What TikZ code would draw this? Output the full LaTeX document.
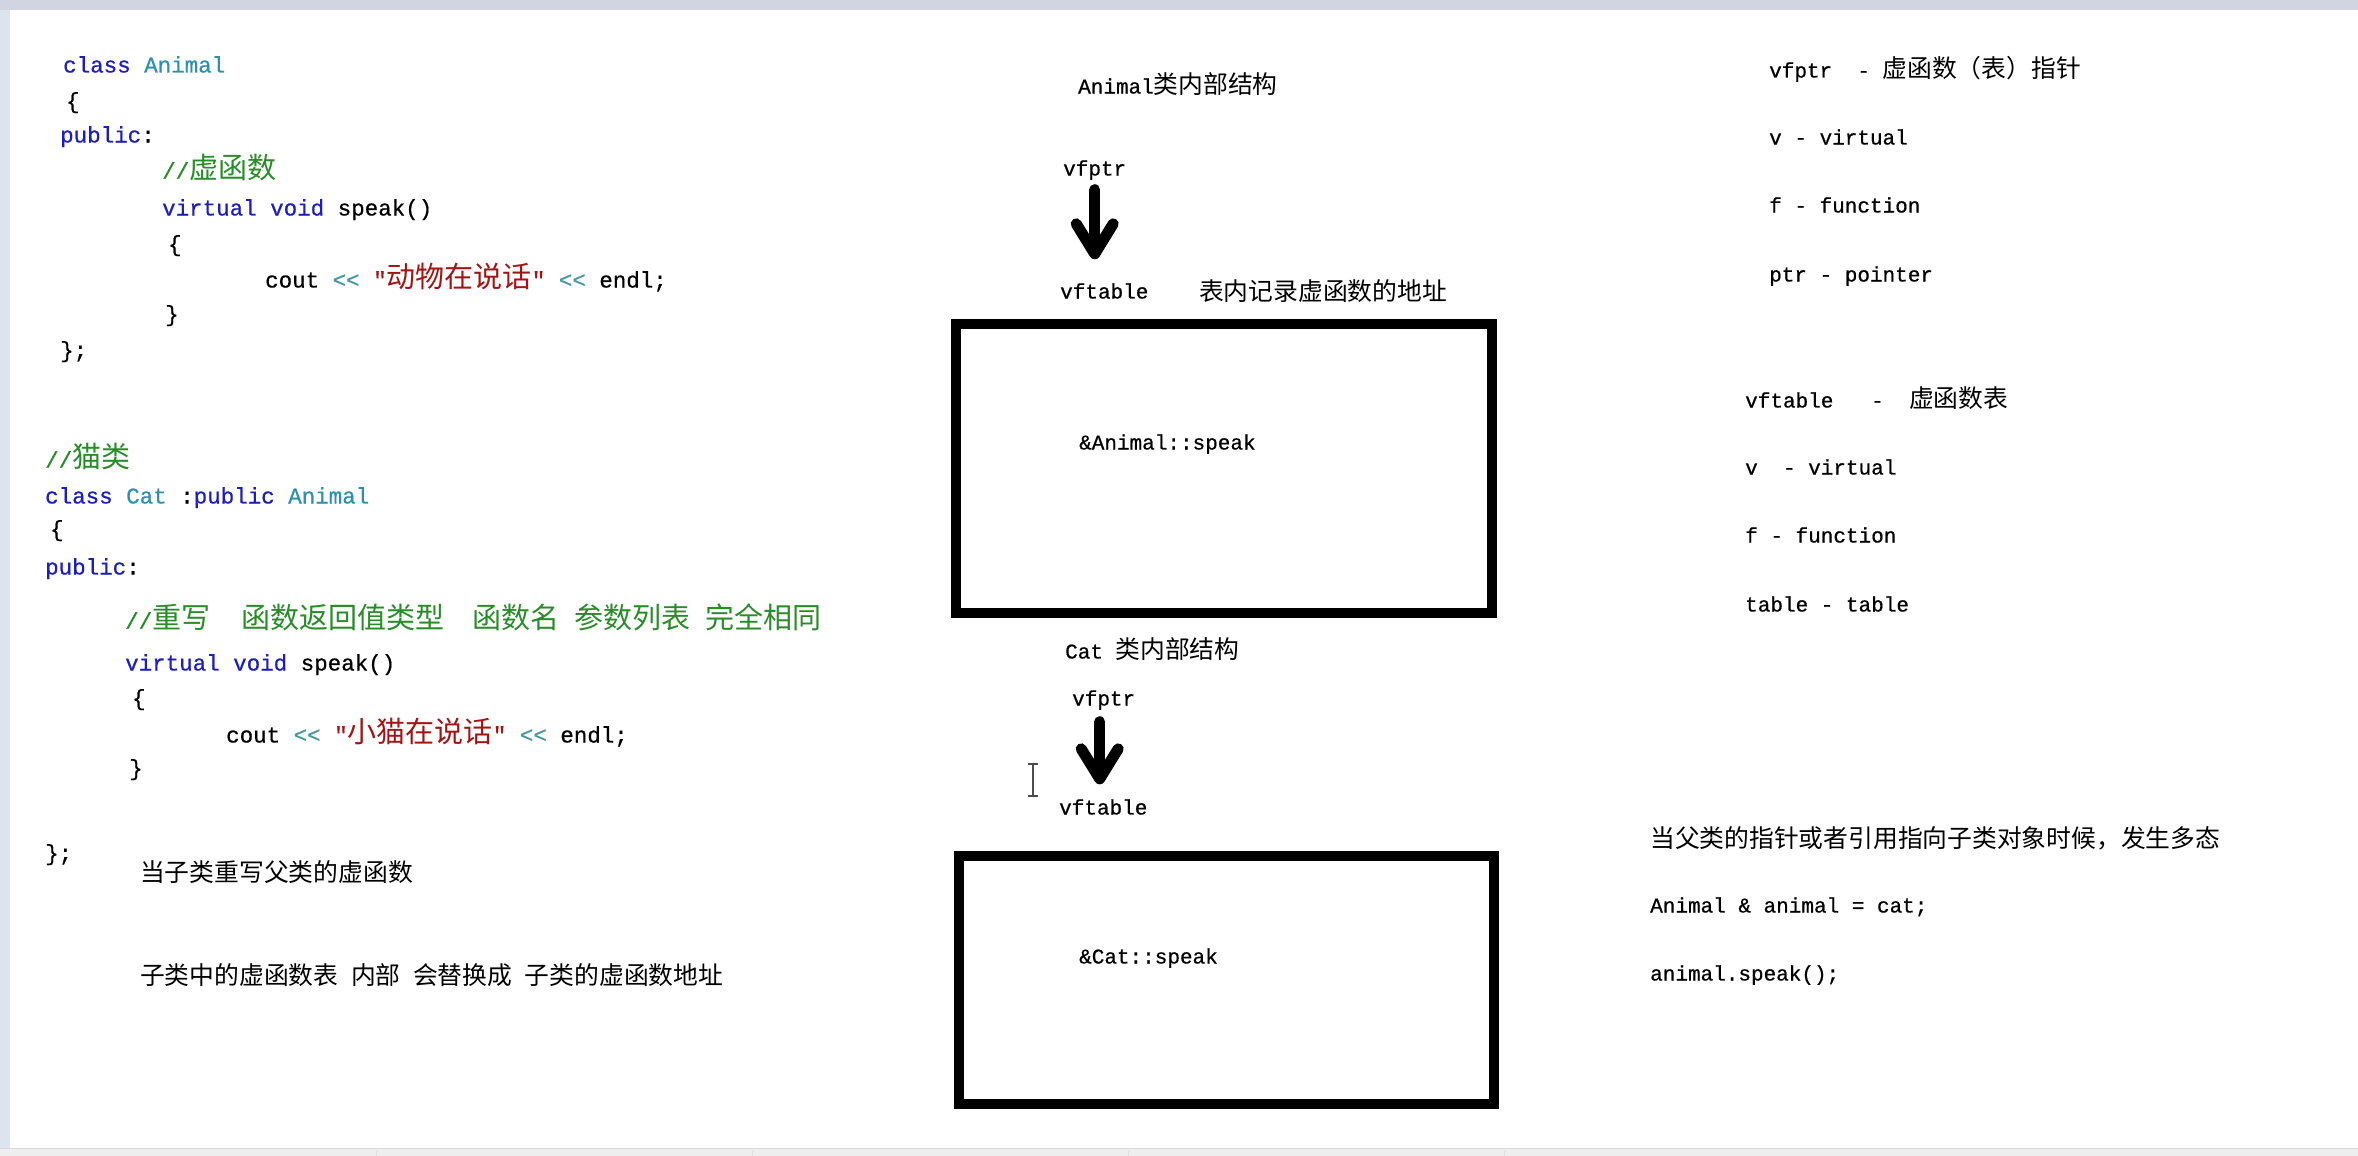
\documentclass[tikz,border=0pt]{standalone}
\usepackage{fontspec}
\setmonofont{Liberation Mono}[FakeBold=0.6]
\newfontfamily\cjkcode[Scale=1.29]{Noto Sans CJK SC}
\newfontfamily\cjknote[Scale=1.18]{Noto Sans CJK SC}
\usepackage{xcolor}
\usetikzlibrary{calc}
\usetikzlibrary{positioning}
\usetikzlibrary{arrows.meta}
\definecolor{kwblue}{RGB}{30,30,190}
\definecolor{typeteal}{RGB}{43,145,175}
\definecolor{cmtgreen}{RGB}{40,140,40}
\definecolor{strred}{RGB}{163,21,21}
\definecolor{opteal}{RGB}{70,150,165}
\definecolor{topband}{RGB}{208,213,225}
\definecolor{sideband}{RGB}{221,228,240}
\definecolor{barcol}{RGB}{238,238,238}
\newcommand{\zhfont}{\cjknote}
\newcommand{\zh}[1]{{\zhfont #1}}
\newcommand{\kw}[1]{\textcolor{kwblue}{#1}}
\newcommand{\ty}[1]{\textcolor{typeteal}{#1}}
\newcommand{\cmt}[1]{\textcolor{cmtgreen}{#1}}
\newcommand{\strlit}[1]{\textcolor{strred}{#1}}
\newcommand{\opr}[1]{\textcolor{opteal}{#1}}

\begin{document}
\begin{tikzpicture}[x=1pt,y=-1pt]
		\tikzset{>=latex}
		\tikzset{
			code/.style={anchor=west,inner sep=0pt,yshift=-5pt,font=\fontsize{22.5}{27}\selectfont\ttfamily\let\zhfont\cjkcode,text height=0.5em,text depth=0pt},
			note/.style={anchor=west,inner sep=0pt,yshift=-5pt,font=\fontsize{21}{25}\selectfont\ttfamily,text height=0.5em,text depth=0pt},
			zhnote/.style={note,text height=0.9em},
			tablebox/.style={draw,line width=10.5pt,inner sep=0pt},
			fatarrow/.style={line width=11pt,line cap=round,-{Straight Barb[length=30pt,width=37pt,line join=round,line cap=round]}}
		}
		\useasboundingbox (0,0) rectangle (2358,1156);
		
		% screen frame
		\fill[white] (0,0) rectangle (2358,1156);
		\fill[topband] (0,0) rectangle (2358,10);
		\fill[sideband] (0,10) rectangle (10,1148);
		\fill[barcol] (0,1148) rectangle (2358,1156);
		\draw[black!15,line width=1pt] (0,1148) -- (2358,1148);
		\foreach \sx in {376,752,1128,1504}
			\draw[black!12] (\sx,1151) -- (\sx,1156);
		
		% class Animal
		\node[code] (a1) at (63,65) {\kw{class} \ty{Animal}};
		\node[code] (a2) at (66,101) {\{};
		\node[code] (a3) at (60,135) {\kw{public}:};
		\node[code] (a4) at (162,171) {\cmt{//\zh{虚函数}}};
		\node[code] (a5) at (162,208) {\kw{virtual} \kw{void} speak()};
		\node[code] (a6) at (168,244) {\{};
		\node[code] (a7) at (265,280) {cout \opr{<<} \strlit{"\zh{动物在说话}"} \opr{<<} endl;};
		\node[code] (a8) at (165,314) {\}};
		\node[code] (a9) at (60,350) {\};};
		
		% class Cat
		\node[code] (c1) at (45,460) {\cmt{//\zh{猫类}}};
		\node[code] (c2) at (45,496) {\kw{class} \ty{Cat} :\kw{public} \ty{Animal}};
		\node[code] (c3) at (50,529) {\{};
		\node[code] (c4) at (45,567) {\kw{public}:};
		\node[code] (c5) at (125,621) {\cmt{//\zh{重写}\hspace*{31pt}\zh{函数返回值类型}\hspace*{28pt}\zh{函数名}\hspace*{15pt}\zh{参数列表}\hspace*{15pt}\zh{完全相同}}};
		\node[code] (c6) at (125,663) {\kw{virtual} \kw{void} speak()};
		\node[code] (c7) at (132,698) {\{};
		\node[code] (c8) at (226,735) {cout \opr{<<} \strlit{"\zh{小猫在说话}"} \opr{<<} endl;};
		\node[code] (c9) at (129,768) {\}};
		\node[code] (c10) at (45,853) {\};};
		\node[zhnote] (n1) at (140,872) {\zh{当子类重写父类的虚函数}};
		\node[zhnote] (n2) at (140,975) {\zh{子类中的虚函数表} \zh{内部} \zh{会替换成} \zh{子类的虚函数地址}};
		
		% Animal layout
		\node[note] (animalHead) at (1078,86) {Animal\zh{类内部结构}};
		\node[note] (vfptrA) at (1063,168) {vfptr};
		\node[note] (vftabA) at (1060,291) {vftable};
		\node[zhnote] (tabNote) at (1199,291) {\zh{表内记录虚函数的地址}};
		\node[tablebox,minimum width=536pt,minimum height=289pt] (tabA) at (1224,468.5) {};
		\node[note] (speakA) at (1079,442) {\&Animal::speak};
		\draw[fatarrow,shorten <=14pt,shorten >=34pt] (vfptrA.south) -- (vfptrA.south |- vftabA.north);
		
		% Cat layout
		\node[note] (catHead) at (1065,651) {Cat \zh{类内部结构}};
		\node[note] (vfptrB) at (1072,698) {vfptr};
		\node[note] (vftabB) at (1059,807) {vftable};
		\node[tablebox,minimum width=535pt,minimum height=248pt] (tabB) at (1226.5,980) {};
		\node[note] (speakB) at (1079,956) {\&Cat::speak};
		\draw[fatarrow,shorten <=16pt,shorten >=25pt] ([xshift=-4pt]vfptrB.south) -- ([xshift=-4pt]vfptrB.south |- vftabB.north);
		\draw[black!70,line width=1.5pt] (1033,764) -- (1033,796) (1028,764) -- (1038,764) (1028,796) -- (1038,796);
		
		% names
		\node[note] (r1) at (1769,70) {vfptr~~-~\zh{虚函数（表）指针}};
		\node[note] (r2) at (1769,137) {v - virtual};
		\node[note] (r3) at (1769,205) {f - function};
		\node[note] (r4) at (1769,274) {ptr - pointer};
		\node[note] (r5) at (1745,400) {vftable~~~-~~\zh{虚函数表}};
		\node[note] (r6) at (1745,467) {v~~- virtual};
		\node[note] (r7) at (1745,535) {f - function};
		\node[note] (r8) at (1745,604) {table - table};
		
		% polymorphism
		\node[zhnote] (r9) at (1650,838) {\zh{当父类的指针或者引用指向子类对象时候，发生多态}};
		\node[note] (r10) at (1650,905) {Animal \& animal = cat;};
		\node[note] (r11) at (1650,973) {animal.speak();};
		
\end{tikzpicture}
\end{document}
